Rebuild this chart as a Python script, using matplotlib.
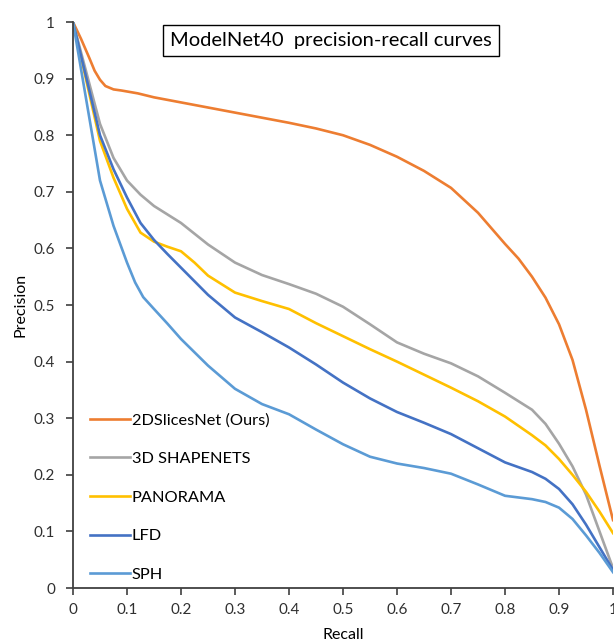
import matplotlib.pyplot as plt

plt.rcParams['font.family'] = ['Lato', 'DejaVu Sans']

# precision-recall readings per method
x_ours = [0, 0.015, 0.03, 0.04, 0.05, 0.06, 0.075, 0.09, 0.12, 0.15, 0.2, 0.25, 0.3, 0.35, 0.4,
          0.45, 0.5, 0.55, 0.6, 0.65, 0.7, 0.75, 0.8, 0.825, 0.85, 0.875, 0.9, 0.925, 0.95,
          0.975, 1.0]
y_ours = [1.0, 0.97, 0.937, 0.914, 0.898, 0.887, 0.881, 0.879, 0.874, 0.867, 0.858, 0.849, 0.84,
          0.831, 0.822, 0.812, 0.80, 0.783, 0.762, 0.737, 0.707, 0.663, 0.608, 0.582, 0.55,
          0.513, 0.466, 0.403, 0.315, 0.216, 0.12]

x_shape = [0, 0.025, 0.05, 0.075, 0.1, 0.125, 0.15, 0.2, 0.25, 0.3, 0.35, 0.4, 0.45, 0.5, 0.55,
           0.6, 0.65, 0.7, 0.75, 0.8, 0.85, 0.875, 0.9, 0.925, 0.95, 0.975, 1.0]
y_shape = [1.0, 0.91, 0.82, 0.76, 0.72, 0.695, 0.675, 0.645, 0.607, 0.575, 0.553, 0.537, 0.52,
           0.497, 0.466, 0.434, 0.414, 0.397, 0.374, 0.345, 0.315, 0.29, 0.255, 0.215, 0.165,
           0.1, 0.035]

x_pano = [0, 0.025, 0.05, 0.075, 0.1, 0.125, 0.15, 0.175, 0.2, 0.225, 0.25, 0.3, 0.35, 0.4, 0.45,
          0.5, 0.55, 0.6, 0.65, 0.7, 0.75, 0.8, 0.85, 0.875, 0.9, 0.925, 0.95, 0.975, 1.0]
y_pano = [1.0, 0.895, 0.79, 0.725, 0.67, 0.628, 0.612, 0.603, 0.595, 0.575, 0.552, 0.522, 0.507,
          0.493, 0.468, 0.445, 0.422, 0.4, 0.377, 0.354, 0.33, 0.303, 0.27, 0.252, 0.228, 0.2,
          0.17, 0.135, 0.097]

x_lfd = [0, 0.025, 0.05, 0.075, 0.1, 0.125, 0.15, 0.175, 0.2, 0.25, 0.3, 0.35, 0.4, 0.45, 0.5,
         0.55, 0.6, 0.65, 0.7, 0.75, 0.8, 0.85, 0.875, 0.9, 0.925, 0.95, 0.975, 1.0]
y_lfd = [1.0, 0.9, 0.8, 0.74, 0.69, 0.645, 0.615, 0.59, 0.566, 0.518, 0.478, 0.452, 0.425,
         0.395, 0.363, 0.335, 0.311, 0.292, 0.272, 0.247, 0.222, 0.205, 0.193, 0.175, 0.148,
         0.112, 0.072, 0.032]

x_sph = [0, 0.025, 0.05, 0.075, 0.1, 0.115, 0.13, 0.15, 0.175, 0.2, 0.25, 0.3, 0.35, 0.4, 0.45,
         0.5, 0.55, 0.6, 0.65, 0.7, 0.75, 0.8, 0.85, 0.875, 0.9, 0.925, 0.95, 0.975, 1.0]
y_sph = [1.0, 0.86, 0.72, 0.64, 0.575, 0.54, 0.514, 0.493, 0.467, 0.44, 0.393, 0.352, 0.325,
         0.307, 0.28, 0.254, 0.232, 0.22, 0.212, 0.202, 0.183, 0.163, 0.157, 0.152, 0.142,
         0.122, 0.093, 0.062, 0.028]

names = ['2DSlicesNet (Ours)', '3D SHAPENETS', 'PANORAMA', 'LFD', 'SPH']
colors = ['#ED7D31', '#A5A5A5', '#FFC000', '#4472C4', '#5B9BD5']

fig = plt.figure(figsize=(6.14, 6.43), dpi=100)
ax = fig.add_axes([0.1189, 0.0855, 0.8795, 0.8802])

series = [(x_ours, y_ours), (x_shape, y_shape), (x_pano, y_pano), (x_lfd, y_lfd), (x_sph, y_sph)]
for (xs, ys), name, c in zip(series, names, colors):
    ax.plot(xs, ys, color=c, lw=1.9, label=name, solid_joinstyle='round')

ax.set_xlim(0, 1)
ax.set_ylim(0, 1)
ticks = [i / 10 for i in range(11)]
labels = ['0'] + ['%.1f' % t for t in ticks[1:-1]] + ['1']
ax.set_xticks(ticks)
ax.set_xticklabels(labels)
ax.set_yticks(ticks)
ax.set_yticklabels(labels)
ax.tick_params(direction='out', length=5, width=1.2, color='#404040', labelsize=11,
               labelcolor='#303030')
ax.tick_params(axis='y', pad=8)
ax.tick_params(axis='x', pad=6)
for s in ['top', 'right']:
    ax.spines[s].set_visible(False)
for s in ['left', 'bottom']:
    ax.spines[s].set_color('#404040')
    ax.spines[s].set_linewidth(1.3)

ax.set_xlabel('Recall', fontsize=11.5)
ax.set_ylabel('Precision', fontsize=11.5)
ax.xaxis.set_label_coords(0.5, -0.071)
ax.yaxis.set_label_coords(-0.085, 0.5)

ax.text(0.478, 0.968, 'ModelNet40  precision-recall curves', transform=ax.transAxes,
        ha='center', va='center', fontsize=14.5,
        bbox=dict(boxstyle='square,pad=0.35', fc='white', ec='black', lw=1))

ax.legend(loc='upper left', bbox_to_anchor=(0.004, 0.335), frameon=False, fontsize=11.8,
          handlelength=2.45, handletextpad=0.1, labelspacing=1.47)

fig.savefig('out.png', dpi=100)
